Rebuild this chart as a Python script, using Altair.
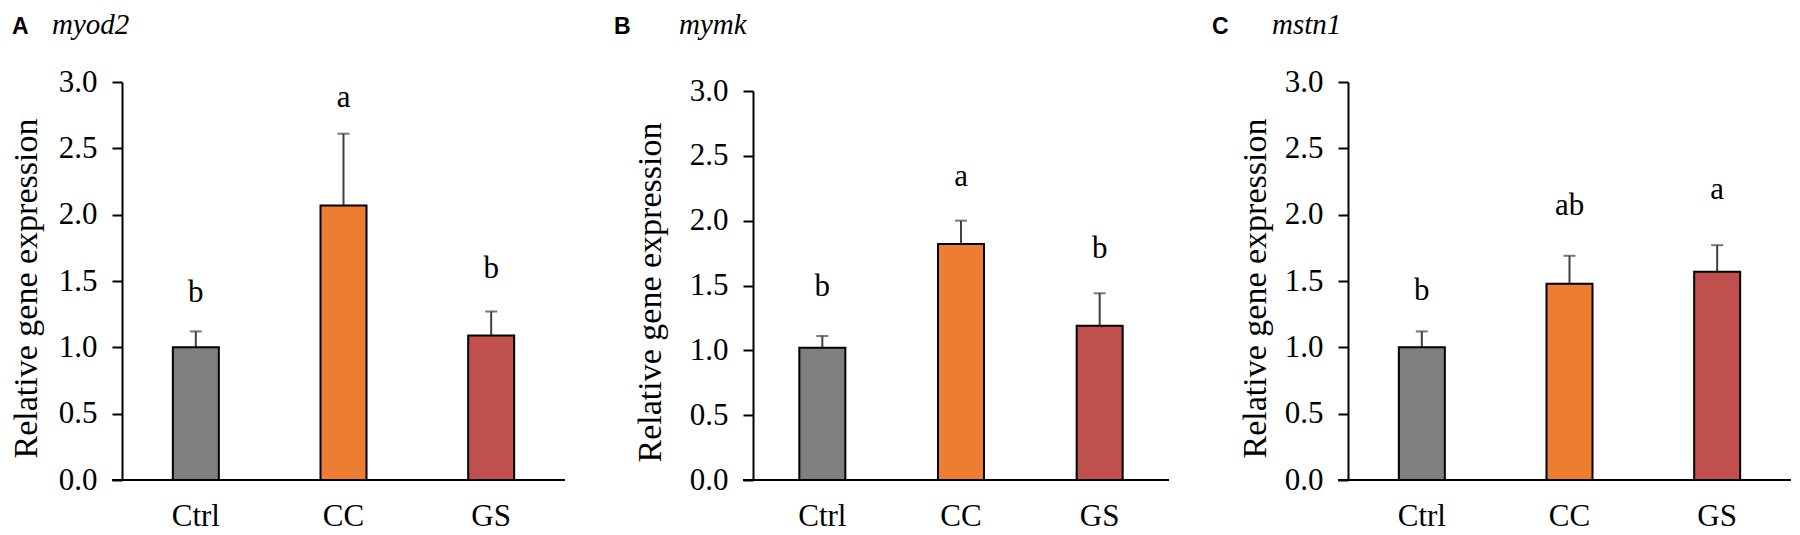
import altair as alt
import pandas as pd

groups = ["Ctrl", "CC", "GS"]
colors = ["#7f7f7f", "#ed7d31", "#c0504d"]
panel_letters = ["A", "B", "C"]
genes = ["myod2", "mymk", "mstn1"]

myod2_mean = [1.00, 2.07, 1.09]
myod2_top = [1.12, 2.61, 1.27]
myod2_sig = ["b", "a", "b"]
myod2_sig_y = [1.34, 2.81, 1.52]

mymk_mean = [1.02, 1.82, 1.19]
mymk_top = [1.11, 2.00, 1.44]
mymk_sig = ["b", "a", "b"]
mymk_sig_y = [1.42, 2.27, 1.71]

mstn1_mean = [1.00, 1.48, 1.57]
mstn1_top = [1.12, 1.69, 1.77]
mstn1_sig = ["b", "ab", "a"]
mstn1_sig_y = [1.36, 2.00, 2.12]

y_ticks = [0.0, 0.5, 1.0, 1.5, 2.0, 2.5, 3.0]

SERIF = "Liberation Serif"
SANS = "Liberation Sans"
H = 398


def panel(letter, gene, mean, top, sig, sig_y, W, y_top, letter_dx, gene_dx, title_x, title_dy, extra_right):
    df = pd.DataFrame({"group": groups, "mean": mean, "top": top, "sig": sig, "sig_y": sig_y})
    base = alt.Chart(df)
    x = alt.X(
        "group:N",
        sort=groups,
        scale=alt.Scale(paddingInner=0, paddingOuter=0),
        axis=alt.Axis(
            title=None, labelAngle=0, ticks=False, tickSize=0, domain=False, grid=False,
            labelFont=SERIF, labelFontSize=31, labelColor="black", labelPadding=21,
        ),
    )
    y = alt.Y(
        "mean:Q",
        scale=alt.Scale(domain=[0, 3], nice=False, zero=True, range=[H, y_top]),
        axis=alt.Axis(
            values=y_ticks, format=".1f", grid=False,
            title="Relative gene expression", titleFont=SERIF, titleFontSize=34,
            titleFontWeight="normal", titleColor="black", titleX=title_x, titleY=H / 2 + title_dy,
            titleBaseline="bottom", titleAlign="center",
            labelFont=SERIF, labelFontSize=31, labelColor="black", labelPadding=15,
            domainColor="black", domainWidth=2, tickColor="black", tickWidth=2, tickSize=10,
        ),
    )
    rule = base.mark_rule(color="#404040", strokeWidth=2).encode(x=x, y=y, y2="top:Q")
    cap = base.mark_tick(color="#404040", thickness=2, size=12).encode(x=x, y="top:Q")
    bars = base.mark_bar(size=46, stroke="black", strokeWidth=2).encode(
        x=x, y=y,
        color=alt.Color("group:N", scale=alt.Scale(domain=groups, range=colors), legend=None),
    )
    txt = base.mark_text(font=SERIF, fontSize=31, baseline="alphabetic", color="black").encode(
        x=x, y="sig_y:Q", text="sig:N"
    )
    one = alt.Chart(pd.DataFrame({"L": [letter], "G": [gene]}))
    xline = one.mark_rule(color="black", strokeWidth=2).encode(
        x=alt.value(-10), x2=alt.value(W), y=alt.value(H)
    )
    spacer = one.mark_rule(opacity=0, strokeWidth=1).encode(
        x=alt.value(W), x2=alt.value(W + extra_right), y=alt.value(H)
    )
    top_spacer = one.mark_rule(opacity=0, strokeWidth=1).encode(
        x=alt.value(0), x2=alt.value(10), y=alt.value(-74)
    )
    head_l = one.mark_text(font=SANS, fontWeight="bold", fontSize=23, align="left",
                           baseline="alphabetic", color="black").encode(
        x=alt.value(letter_dx), y=alt.value(-48), text="L:N"
    )
    head_g = one.mark_text(font=SERIF, fontStyle="italic", fontSize=29, align="left",
                           baseline="alphabetic", color="black").encode(
        x=alt.value(gene_dx), y=alt.value(-48), text="G:N"
    )
    return alt.layer(rule, cap, bars, txt, xline, spacer, top_spacer, head_l, head_g).properties(
        width=W, height=H
    )


pA = panel(panel_letters[0], genes[0], myod2_mean, myod2_top, myod2_sig, myod2_sig_y,
           443, 0, -110, -70, -79, 7, 7)
pB = panel(panel_letters[1], genes[1], mymk_mean, mymk_top, mymk_sig, mymk_sig_y,
           416, 9, -139, -74, -86, 11, 0)
pC = panel(panel_letters[2], genes[2], mstn1_mean, mstn1_top, mstn1_sig, mstn1_sig_y,
           443, 0, -136, -76, -76, 7, 0)

chart = (
    alt.hconcat(pA, pB, pC, spacing=42)
    .properties(padding=0, background="white")
    .configure_view(strokeWidth=0)
)

chart.save("out.html", embed_options={"renderer": "svg", "actions": False})
